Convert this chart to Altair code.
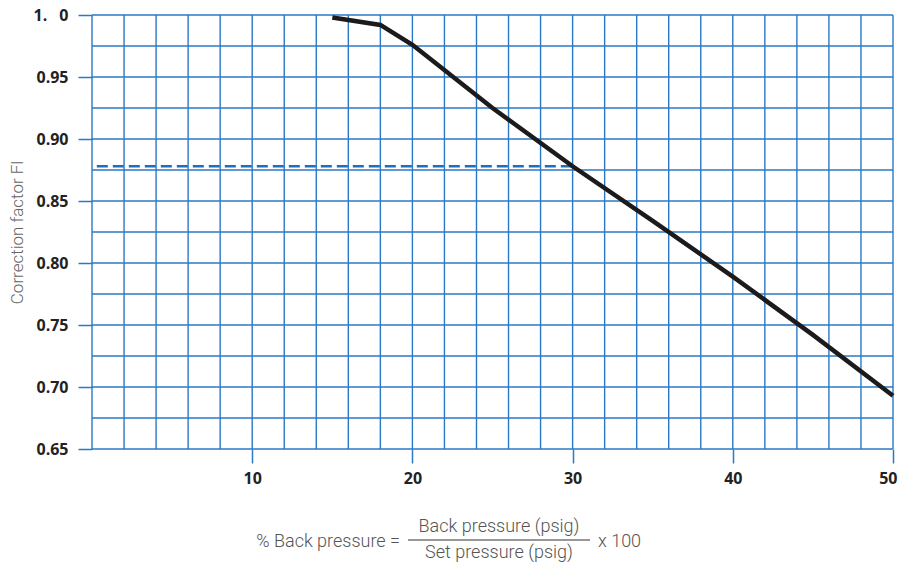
import altair as alt
import pandas as pd

# ---- data ----
curve_x = [15, 18, 20, 25, 30, 35, 40, 45, 50]
curve_y = [0.998, 0.992, 0.976, 0.925, 0.878, 0.834, 0.789, 0.742, 0.693]

ref_x = [0.3, 30]
ref_y = [0.878, 0.878]

grid_x = list(range(0, 51, 2))
grid_y = [round(0.65 + 0.025 * i, 3) for i in range(15)]

x_ticks = [10, 20, 30, 40, 50]
y_ticks = [0.65, 0.70, 0.75, 0.80, 0.85, 0.90, 0.95, 1.0]

y_title = "Correction factor Fl"
formula_left = "% Back pressure ="
formula_num = "Back pressure (psig)"
formula_den = "Set pressure (psig)"
formula_right = "x 100"

# ---- styling ----
BLUE = "#2b78c5"
W, H = 801, 434
LABEL_FONT = "Open Sans"
TEXT_FONT = "Roboto"

xs = alt.Scale(domain=[0, 50], nice=False, zero=False)
ys = alt.Scale(domain=[0.65, 1.0], nice=False, zero=False)

x_axis = alt.Axis(
    values=x_ticks,
    grid=False,
    domain=False,
    ticks=True,
    tickSize=14,
    tickColor=BLUE,
    tickWidth=1.5,
    labelFont=LABEL_FONT,
    labelFontWeight="bold",
    labelFontSize=16,
    labelColor="#222222",
    labelPadding=7,
    labelFlush=True,
    labelFlushOffset=4,
    title=None,
)
y_axis = alt.Axis(
    values=y_ticks,
    grid=False,
    domain=False,
    ticks=True,
    tickSize=14,
    tickColor=BLUE,
    tickWidth=1.5,
    labelFont=LABEL_FONT,
    labelFontWeight="bold",
    labelFontSize=16,
    labelColor="#222222",
    labelPadding=10,
    labelExpr="datum.value == 1 ? '1.\u2002 0' : format(datum.value, '.2f')",
    title=y_title,
    titleFont=TEXT_FONT,
    titleFontWeight=300,
    titleFontSize=17,
    titleColor="#666666",
    titlePadding=6,
)

vgrid = alt.Chart(pd.DataFrame({"gx": grid_x})).mark_rule(
    color=BLUE, strokeWidth=1.4
).encode(x=alt.X("gx:Q", scale=xs, axis=x_axis))

hgrid = alt.Chart(pd.DataFrame({"gy": grid_y})).mark_rule(
    color=BLUE, strokeWidth=1.4
).encode(y=alt.Y("gy:Q", scale=ys, axis=y_axis))

dashed = alt.Chart(pd.DataFrame({"x": ref_x, "y": ref_y})).mark_line(
    color="#1a6fc0", strokeWidth=2.6, strokeDash=[11, 5]
).encode(
    x=alt.X("x:Q", scale=xs, axis=x_axis),
    y=alt.Y("y:Q", scale=ys, axis=y_axis),
)

curve = alt.Chart(pd.DataFrame({"x": curve_x, "y": curve_y})).mark_line(
    color="#1c1a1a", strokeWidth=4.5, strokeJoin="miter"
).encode(
    x=alt.X("x:Q", scale=xs, axis=x_axis),
    y=alt.Y("y:Q", scale=ys, axis=y_axis),
)

def label(txt, x, y, align):
    return alt.Chart(pd.DataFrame({"t": [txt]})).mark_text(
        font=TEXT_FONT, fontWeight=300, fontSize=18, color="#555555",
        align=align, baseline="middle"
    ).encode(text="t:N", x=alt.value(x), y=alt.value(y))

t_left = label(formula_left, 308, 527, "right")
t_num = label(formula_num, 407, 512, "center")
t_den = label(formula_den, 407, 538, "center")
t_right = label(formula_right, 506, 527, "left")

bar = alt.Chart(pd.DataFrame({"a": [0]})).mark_rule(
    color="#333333", strokeWidth=1.2
).encode(x=alt.value(316), x2=alt.value(498), y=alt.value(525))

chart = alt.layer(
    vgrid, hgrid, dashed, curve, t_left, t_num, t_den, t_right, bar
).properties(
    width=W,
    height=H,
    autosize=alt.AutoSizeParams(type="none"),
    padding={"left": 84, "top": 7, "right": 6, "bottom": 113},
).configure_view(stroke=None)

chart.save("out.html", embed_options={"renderer": "svg", "actions": False})
